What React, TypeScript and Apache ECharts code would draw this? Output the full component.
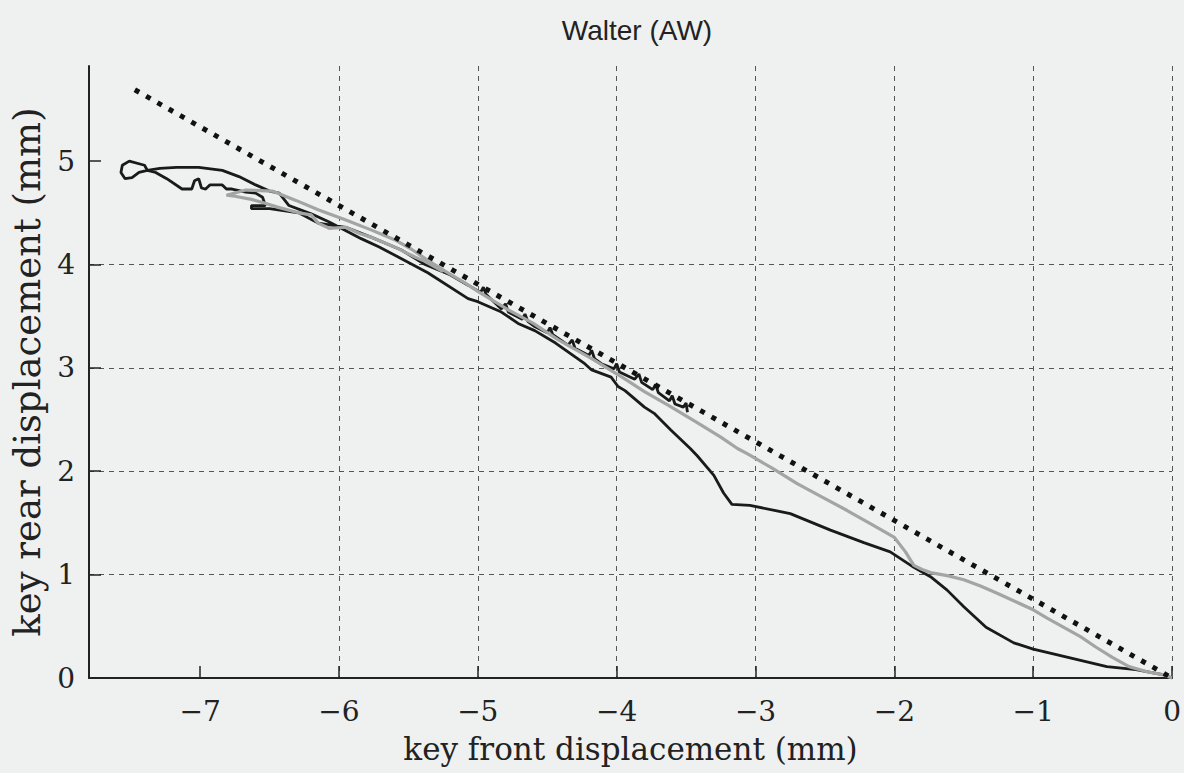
import React, { useEffect, useRef } from "react";
import * as echarts from "echarts";

const titleText = "Walter (AW)";
const xAxisName = "key front displacement (mm)";
const yAxisName = "key rear displacement (mm)";
const xTicks = [-7, -6, -5, -4, -3, -2, -1, 0];
const yTicks = [0, 1, 2, 3, 4, 5];

// rigid leverage line (dotted)
const rigidLine: [number, number][] = [[-7.47, 5.69], [0, 0]];

// black trace
const blackTrace: [number, number][] = [
  [0, 0], [-0.06, 0.03], [-0.26, 0.08], [-0.47, 0.11], [-0.78, 0.21], [-1.0, 0.28], [-1.14, 0.34],
  [-1.34, 0.49], [-1.5, 0.69], [-1.62, 0.85], [-1.74, 0.98], [-1.86, 1.07], [-2.03, 1.22], [-2.22, 1.31],
  [-2.46, 1.43], [-2.75, 1.59], [-3.04, 1.67], [-3.17, 1.68], [-3.23, 1.79], [-3.3, 1.96], [-3.42, 2.15],
  [-3.47, 2.22], [-3.61, 2.4], [-3.73, 2.56], [-3.8, 2.62], [-3.94, 2.78], [-3.99, 2.82], [-4.04, 2.91],
  [-4.18, 2.98], [-4.23, 3.04], [-4.44, 3.24], [-4.59, 3.36], [-4.71, 3.43], [-4.83, 3.54], [-5.0, 3.64],
  [-5.07, 3.67], [-5.36, 3.92], [-5.71, 4.17], [-5.84, 4.25], [-6.07, 4.41], [-6.2, 4.49], [-6.36, 4.57],
  [-6.43, 4.69], [-6.5, 4.71], [-6.6, 4.77], [-6.72, 4.85], [-6.84, 4.91], [-7.01, 4.94], [-7.17, 4.94],
  [-7.29, 4.93], [-7.38, 4.91], [-7.4, 4.96], [-7.51, 5.0], [-7.56, 4.96], [-7.57, 4.89], [-7.54, 4.83],
  [-7.49, 4.84], [-7.44, 4.89], [-7.38, 4.91], [-7.32, 4.89], [-7.24, 4.83], [-7.13, 4.73], [-7.06, 4.73],
  [-7.04, 4.81], [-7.01, 4.83], [-6.99, 4.74], [-6.96, 4.73], [-6.93, 4.77], [-6.84, 4.77], [-6.81, 4.73],
  [-6.77, 4.73], [-6.67, 4.7], [-6.6, 4.69], [-6.55, 4.65], [-6.53, 4.57], [-6.63, 4.57], [-6.63, 4.54],
  [-6.5, 4.54], [-6.29, 4.5], [-6.15, 4.4], [-5.95, 4.36], [-5.76, 4.26], [-5.55, 4.14], [-5.38, 4.0],
  [-5.2, 3.9], [-5.07, 3.8], [-4.98, 3.73], [-4.96, 3.78], [-4.94, 3.71], [-4.83, 3.57], [-4.8, 3.62],
  [-4.78, 3.54], [-4.68, 3.47], [-4.66, 3.52], [-4.64, 3.45], [-4.59, 3.4], [-4.5, 3.34], [-4.48, 3.39],
  [-4.46, 3.32], [-4.35, 3.22], [-4.32, 3.27], [-4.3, 3.19], [-4.2, 3.12], [-4.18, 3.17], [-4.16, 3.09],
  [-4.11, 3.04], [-4.02, 2.99], [-4.0, 3.04], [-3.98, 2.96], [-3.87, 2.89], [-3.84, 2.94], [-3.82, 2.86],
  [-3.74, 2.79], [-3.72, 2.84], [-3.7, 2.76], [-3.62, 2.68], [-3.6, 2.73], [-3.58, 2.65], [-3.52, 2.62],
  [-3.5, 2.66], [-3.49, 2.57],
];

// grey trace
const greyTrace: [number, number][] = [
  [0, 0], [-0.06, 0.03], [-0.18, 0.06], [-0.31, 0.11], [-0.43, 0.2], [-0.55, 0.3], [-0.66, 0.4],
  [-0.78, 0.49], [-0.9, 0.58], [-1.0, 0.66], [-1.13, 0.74], [-1.26, 0.82], [-1.38, 0.89], [-1.5, 0.95],
  [-1.62, 0.99], [-1.74, 1.02], [-1.8, 1.05], [-1.86, 1.09], [-1.92, 1.22], [-2.0, 1.36], [-2.17, 1.49],
  [-2.34, 1.62], [-2.52, 1.75], [-2.7, 1.88], [-2.88, 2.03], [-3.06, 2.17], [-3.13, 2.22], [-3.25, 2.33],
  [-3.42, 2.47], [-3.63, 2.64], [-3.8, 2.77], [-3.95, 2.9], [-4.18, 3.09], [-4.42, 3.27], [-4.6, 3.43],
  [-4.78, 3.56], [-5.0, 3.74], [-5.09, 3.82], [-5.23, 3.93], [-5.36, 4.04], [-5.48, 4.15], [-5.6, 4.24],
  [-5.76, 4.33], [-5.95, 4.43], [-6.15, 4.53], [-6.31, 4.62], [-6.48, 4.71], [-6.67, 4.72], [-6.81, 4.67],
  [-6.75, 4.66], [-6.63, 4.63], [-6.55, 4.6], [-6.43, 4.55], [-6.29, 4.5], [-6.2, 4.48], [-6.15, 4.4],
  [-6.07, 4.35], [-5.95, 4.36], [-5.85, 4.3], [-5.76, 4.26], [-5.6, 4.17], [-5.45, 4.07], [-5.38, 4.03],
  [-5.25, 3.93],
];

const minus = (v: number) => (v < 0 ? "\u2212" + Math.abs(v) : String(v));

export default function App() {
  const ref = useRef<HTMLDivElement>(null);
  useEffect(() => {
    if (!ref.current) return;
    const chart = echarts.init(ref.current, undefined, { renderer: "svg" });
    const serif = "'DejaVu Serif', 'Liberation Serif', serif";
    chart.setOption({
      animation: false,
      backgroundColor: "#eef1f0",
      title: {
        text: titleText,
        left: 632,
        textAlign: "center",
        top: 11,
        textStyle: {
          fontFamily: "'Liberation Sans Narrow', 'Liberation Sans', sans-serif",
          fontSize: 28,
          fontWeight: "normal",
          color: "#222",
        },
      },
      grid: { left: 89, right: 8, top: 66, bottom: 95 },
      xAxis: {
        type: "value",
        min: -7.8,
        max: 0,
        name: xAxisName,
        nameLocation: "middle",
        nameGap: 55,
        nameTextStyle: { fontFamily: serif, fontSize: 31, color: "#222" },
        axisLine: { onZero: false, lineStyle: { color: "#222", width: 2 } },
        axisTick: { inside: true, length: 12, lineStyle: { color: "#222", width: 1.5 }, customValues: xTicks },
        axisLabel: {
          customValues: xTicks,
          formatter: minus,
          fontFamily: serif,
          fontSize: 28,
          color: "#222",
          margin: 19,
        },
        splitLine: {
          show: true,
          showMinLine: false,
          lineStyle: { color: "#555", width: 1, type: [5, 5] },
        },
      },
      yAxis: {
        type: "value",
        min: 0,
        max: 5.92,
        name: yAxisName,
        nameLocation: "middle",
        nameGap: 43,
        nameRotate: 90,
        nameTextStyle: { fontFamily: serif, fontSize: 37, color: "#222" },
        axisLine: { show: true, onZero: false, lineStyle: { color: "#222", width: 2 } },
        axisTick: { show: true, inside: true, length: 12, lineStyle: { color: "#222", width: 1.5 }, customValues: yTicks },
        axisLabel: {
          customValues: yTicks,
          fontFamily: serif,
          fontSize: 28,
          color: "#222",
          margin: 14,
        },
        splitLine: {
          show: true,
          showMaxLine: false,
          lineStyle: { color: "#555", width: 1, type: [5, 5] },
        },
      },
      series: [
        {
          name: "black",
          type: "line",
          data: blackTrace,
          showSymbol: false,
          z: 2,
          lineStyle: { color: "#1a1a1a", width: 2.8 },
        },
        {
          name: "grey",
          type: "line",
          data: greyTrace,
          showSymbol: false,
          z: 3,
          lineStyle: { color: "#a4a4a4", width: 3.2 },
        },
        {
          name: "rigid",
          type: "line",
          data: rigidLine,
          showSymbol: false,
          z: 4,
          lineStyle: { color: "#111", width: 5, type: [5, 8], cap: "butt" },
        },
      ],
    });
    return () => chart.dispose();
  }, []);
  return (
    <div
      ref={ref}
      style={{ position: "absolute", left: 0, top: 0, width: 1184, height: 773 }}
    />
  );
}
